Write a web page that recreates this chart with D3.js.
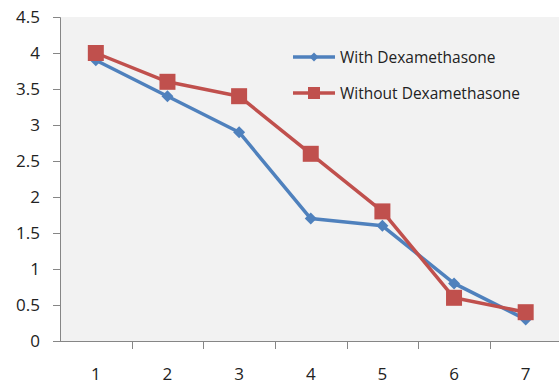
<!DOCTYPE html>
<html>
<head>
<meta charset="utf-8">
<script src="https://cdn.jsdelivr.net/npm/d3@7"></script>
<style>
  html, body { margin: 0; padding: 0; background: #fff; }
  svg { display: block; }
  text { font-family: "Open Sans", "Liberation Sans", sans-serif; fill: #222; }
</style>
</head>
<body>
<svg id="chart" width="559" height="385"></svg>
<script>
// Dose steps along the x axis
const categories = ["1", "2", "3", "4", "5", "6", "7"];
// Measured values per series
const withDexa = [3.9, 3.4, 2.9, 1.7, 1.6, 0.8, 0.3];
const withoutDexa = [4.0, 3.6, 3.4, 2.6, 1.8, 0.6, 0.4];
const yTicks = [0, 0.5, 1, 1.5, 2, 2.5, 3, 3.5, 4, 4.5];
const seriesNames = ["With Dexamethasone", "Without Dexamethasone"];

const svg = d3.select("#chart");
const W = 559, H = 385;
const plot = { left: 60, right: 561.5, top: 17, bottom: 341 };

const x = d3.scaleBand().domain(categories).range([plot.left, plot.right]);
const y = d3.scaleLinear().domain([0, 4.5]).range([plot.bottom, plot.top]);

// Plot area background
svg.append("rect")
  .attr("x", plot.left).attr("y", plot.top)
  .attr("width", W - plot.left).attr("height", plot.bottom - plot.top)
  .attr("fill", "#f2f2f2");

// Y axis
const yAxis = svg.append("g")
  .attr("transform", `translate(${plot.left},0)`)
  .call(d3.axisLeft(y).tickValues(yTicks).tickSize(7).tickPadding(13)
    .tickFormat(d => d3.format("")(d)));
yAxis.select(".domain").attr("stroke", "#868686");
yAxis.selectAll(".tick line").attr("stroke", "#868686");
yAxis.selectAll(".tick text").style("font-size", "17px").attr("fill", "#222");

// X axis: ticks sit on category boundaries
const xAxisG = svg.append("g").attr("transform", `translate(0,${plot.bottom})`);
xAxisG.append("line")
  .attr("x1", plot.left).attr("x2", W)
  .attr("y1", 0.5).attr("y2", 0.5)
  .attr("stroke", "#868686");
categories.forEach((c, i) => {
  const bx = Math.round(x(c)) + 0.5;
  if (i > 0) {
    xAxisG.append("line")
      .attr("x1", bx).attr("x2", bx).attr("y1", 0).attr("y2", 8)
      .attr("stroke", "#868686");
  }
  xAxisG.append("text")
    .attr("x", x(c) + x.bandwidth() / 2)
    .attr("y", 39)
    .attr("text-anchor", "middle")
    .style("font-size", "17px")
    .text(c);
});

const cx = (d, i) => x(categories[i]) + x.bandwidth() / 2;
const line = d3.line().x((d, i) => cx(d, i)).y(d => y(d));

const blue = "#4f81bd", red = "#c0504d";

// With Dexamethasone (diamonds)
svg.append("path").datum(withDexa)
  .attr("d", line).attr("fill", "none")
  .attr("stroke", blue).attr("stroke-width", 3.5).attr("stroke-linejoin", "round");
svg.selectAll(".dia").data(withDexa).enter().append("path")
  .attr("transform", (d, i) => `translate(${cx(d, i)},${y(d)}) rotate(45)`)
  .attr("d", d3.symbol().type(d3.symbolSquare).size(72))
  .attr("fill", blue);

// Without Dexamethasone (squares)
svg.append("path").datum(withoutDexa)
  .attr("d", line).attr("fill", "none")
  .attr("stroke", red).attr("stroke-width", 3.5).attr("stroke-linejoin", "round");
svg.selectAll(".sq").data(withoutDexa).enter().append("rect")
  .attr("x", (d, i) => cx(d, i) - 8)
  .attr("y", d => y(d) - 8)
  .attr("width", 16).attr("height", 16)
  .attr("fill", red);

// Legend
const legend = svg.append("g");
const legendRows = [
  { name: seriesNames[0], color: blue, y: 57, marker: "diamond" },
  { name: seriesNames[1], color: red, y: 93, marker: "square" }
];
legendRows.forEach(r => {
  legend.append("line")
    .attr("x1", 293).attr("x2", 335).attr("y1", r.y).attr("y2", r.y)
    .attr("stroke", r.color).attr("stroke-width", 3.5);
  if (r.marker === "diamond") {
    legend.append("path")
      .attr("transform", `translate(314,${r.y}) rotate(45)`)
      .attr("d", d3.symbol().type(d3.symbolSquare).size(40))
      .attr("fill", r.color);
  } else {
    legend.append("rect")
      .attr("x", 308).attr("y", r.y - 6).attr("width", 12).attr("height", 12)
      .attr("fill", r.color);
  }
  legend.append("text")
    .attr("x", 340).attr("y", r.y + 5.5)
    .style("font-size", "15.5px")
    .text(r.name);
});
</script>
</body>
</html>
